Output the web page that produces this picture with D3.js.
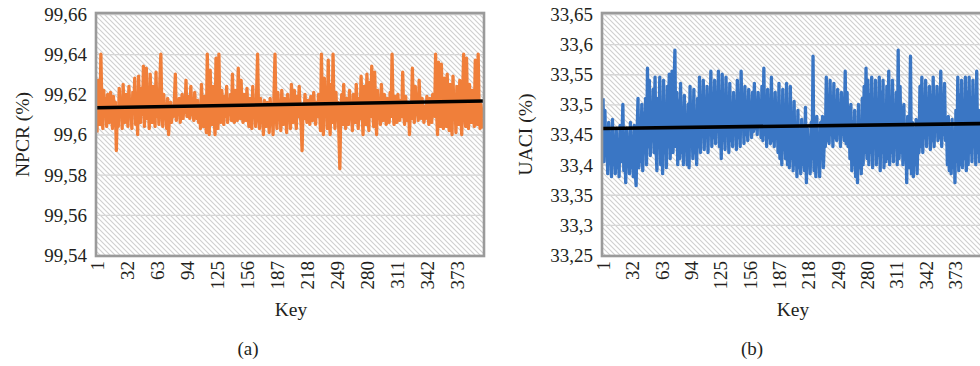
<!DOCTYPE html>
<html>
<head>
<meta charset="utf-8">
<script src="https://cdn.jsdelivr.net/npm/d3@7/dist/d3.min.js"></script>
<style>
  html, body { margin: 0; padding: 0; background: #ffffff; }
  svg { display: block; }
  text { font-family: "Liberation Serif", "DejaVu Serif", serif; fill: #231f20; }
</style>
</head>
<body>
<svg id="chart" width="980" height="366"></svg>
<script>
// Key positions shown on the category axis
const keyTicks = [1, 32, 63, 94, 125, 156, 187, 218, 249, 280, 311, 342, 373];

// NPCR (%) per key, keys 1..400
const npcrValues = [
  99.601, 99.627, 99.612, 99.605, 99.640, 99.615, 99.603, 99.622, 99.609, 99.618, 99.604, 99.620, 99.611, 99.606, 99.621, 99.613, 99.603, 99.619, 99.608, 99.616,
  99.592, 99.614, 99.604, 99.623, 99.609, 99.617, 99.603, 99.625, 99.611, 99.606, 99.620, 99.613, 99.604, 99.624, 99.610, 99.617, 99.603, 99.621, 99.612, 99.628,
  99.605, 99.618, 99.600, 99.629, 99.612, 99.606, 99.623, 99.610, 99.634, 99.604, 99.619, 99.633, 99.608, 99.615, 99.603, 99.630, 99.611, 99.606, 99.624, 99.614,
  99.604, 99.631, 99.609, 99.618, 99.605, 99.627, 99.640, 99.612, 99.604, 99.620, 99.609, 99.615, 99.603, 99.618, 99.600, 99.611, 99.616, 99.606, 99.614, 99.609,
  99.617, 99.630, 99.607, 99.615, 99.610, 99.618, 99.606, 99.613, 99.620, 99.608, 99.616, 99.611, 99.627, 99.609, 99.619, 99.612, 99.608, 99.624, 99.610, 99.615,
  99.607, 99.621, 99.612, 99.608, 99.617, 99.606, 99.613, 99.603, 99.625, 99.610, 99.604, 99.619, 99.612, 99.601, 99.640, 99.615, 99.600, 99.632, 99.611, 99.605,
  99.624, 99.609, 99.600, 99.638, 99.613, 99.603, 99.640, 99.610, 99.606, 99.622, 99.612, 99.605, 99.619, 99.609, 99.624, 99.606, 99.615, 99.611, 99.620, 99.607,
  99.630, 99.610, 99.606, 99.622, 99.612, 99.607, 99.633, 99.614, 99.608, 99.627, 99.610, 99.606, 99.620, 99.613, 99.607, 99.623, 99.610, 99.604, 99.618, 99.612,
  99.603, 99.624, 99.609, 99.615, 99.604, 99.621, 99.640, 99.611, 99.603, 99.618, 99.607, 99.614, 99.600, 99.617, 99.609, 99.604, 99.616, 99.611, 99.601, 99.618,
  99.608, 99.613, 99.600, 99.620, 99.640, 99.612, 99.603, 99.621, 99.609, 99.615, 99.602, 99.622, 99.610, 99.605, 99.618, 99.612, 99.601, 99.620, 99.609, 99.614,
  99.603, 99.625, 99.610, 99.606, 99.622, 99.612, 99.603, 99.619, 99.609, 99.624, 99.611, 99.605, 99.592, 99.614, 99.608, 99.620, 99.612, 99.606, 99.617, 99.610,
  99.605, 99.619, 99.612, 99.607, 99.621, 99.611, 99.605, 99.616, 99.609, 99.620, 99.613, 99.602, 99.640, 99.612, 99.600, 99.628, 99.609, 99.622, 99.603, 99.637,
  99.611, 99.600, 99.625, 99.606, 99.640, 99.612, 99.603, 99.621, 99.608, 99.616, 99.601, 99.583, 99.612, 99.620, 99.605, 99.625, 99.610, 99.603, 99.618, 99.612,
  99.605, 99.622, 99.609, 99.614, 99.602, 99.620, 99.611, 99.606, 99.625, 99.612, 99.603, 99.618, 99.608, 99.629, 99.611, 99.600, 99.624, 99.610, 99.605, 99.630,
  99.612, 99.602, 99.626, 99.609, 99.634, 99.611, 99.604, 99.631, 99.613, 99.600, 99.622, 99.609, 99.615, 99.605, 99.625, 99.612, 99.607, 99.620, 99.610, 99.605,
  99.618, 99.612, 99.606, 99.621, 99.609, 99.640, 99.613, 99.605, 99.619, 99.611, 99.606, 99.620, 99.612, 99.607, 99.617, 99.609, 99.631, 99.610, 99.605, 99.619,
  99.612, 99.607, 99.616, 99.600, 99.614, 99.608, 99.633, 99.612, 99.606, 99.624, 99.610, 99.615, 99.607, 99.627, 99.612, 99.608, 99.618, 99.610, 99.606, 99.614,
  99.608, 99.619, 99.611, 99.605, 99.618, 99.612, 99.606, 99.620, 99.614, 99.609, 99.640, 99.612, 99.600, 99.636, 99.614, 99.604, 99.635, 99.611, 99.603, 99.628,
  99.612, 99.604, 99.630, 99.610, 99.602, 99.625, 99.612, 99.600, 99.629, 99.609, 99.618, 99.601, 99.624, 99.611, 99.605, 99.627, 99.612, 99.600, 99.621, 99.640,
  99.612, 99.604, 99.638, 99.611, 99.603, 99.625, 99.614, 99.606, 99.622, 99.610, 99.604, 99.637, 99.612, 99.605, 99.640, 99.611, 99.603, 99.615, 99.608, 99.603
];

// UACI (%) per key, keys 1..400
const uaciValues = [
  33.510, 33.405, 33.490, 33.420, 33.455, 33.385, 33.470, 33.410, 33.445, 33.380, 33.475, 33.400, 33.440, 33.385, 33.460, 33.395, 33.430, 33.380, 33.465, 33.405,
  33.440, 33.500, 33.390, 33.450, 33.370, 33.460, 33.400, 33.435, 33.385, 33.470, 33.395, 33.445, 33.380, 33.465, 33.390, 33.365, 33.450, 33.510, 33.395, 33.470,
  33.405, 33.500, 33.390, 33.485, 33.420, 33.510, 33.400, 33.560, 33.430, 33.540, 33.415, 33.495, 33.440, 33.525, 33.420, 33.545, 33.430, 33.390, 33.510, 33.440,
  33.545, 33.400, 33.480, 33.385, 33.540, 33.420, 33.500, 33.395, 33.530, 33.430, 33.550, 33.410, 33.490, 33.555, 33.420, 33.515, 33.590, 33.430, 33.520, 33.400,
  33.505, 33.410, 33.535, 33.420, 33.490, 33.400, 33.515, 33.430, 33.470, 33.400, 33.500, 33.395, 33.530, 33.440, 33.480, 33.410, 33.525, 33.420, 33.470, 33.400,
  33.510, 33.430, 33.545, 33.420, 33.500, 33.450, 33.540, 33.425, 33.490, 33.460, 33.530, 33.420, 33.510, 33.450, 33.555, 33.430, 33.500, 33.445, 33.540, 33.435,
  33.505, 33.455, 33.555, 33.430, 33.520, 33.410, 33.550, 33.440, 33.495, 33.425, 33.545, 33.450, 33.505, 33.420, 33.535, 33.440, 33.490, 33.430, 33.520, 33.450,
  33.500, 33.425, 33.540, 33.445, 33.510, 33.430, 33.555, 33.460, 33.505, 33.435, 33.530, 33.450, 33.500, 33.440, 33.525, 33.460, 33.490, 33.445, 33.520, 33.455,
  33.535, 33.460, 33.495, 33.450, 33.520, 33.470, 33.500, 33.445, 33.530, 33.440, 33.560, 33.450, 33.500, 33.430, 33.525, 33.445, 33.490, 33.435, 33.545, 33.440,
  33.505, 33.430, 33.520, 33.445, 33.480, 33.420, 33.535, 33.410, 33.470, 33.400, 33.525, 33.425, 33.460, 33.410, 33.535, 33.400, 33.480, 33.395, 33.530, 33.410,
  33.470, 33.390, 33.505, 33.400, 33.455, 33.380, 33.490, 33.395, 33.440, 33.385, 33.475, 33.400, 33.450, 33.390, 33.495, 33.370, 33.460, 33.400, 33.440, 33.385,
  33.470, 33.410, 33.580, 33.390, 33.455, 33.380, 33.480, 33.400, 33.445, 33.380, 33.470, 33.410, 33.480, 33.395, 33.450, 33.430, 33.545, 33.440, 33.500, 33.435,
  33.540, 33.450, 33.495, 33.430, 33.535, 33.445, 33.505, 33.440, 33.525, 33.455, 33.480, 33.430, 33.520, 33.450, 33.490, 33.440, 33.555, 33.435, 33.520, 33.430,
  33.495, 33.410, 33.500, 33.390, 33.470, 33.400, 33.490, 33.380, 33.455, 33.370, 33.500, 33.395, 33.465, 33.385, 33.510, 33.400, 33.530, 33.420, 33.560, 33.410,
  33.540, 33.400, 33.515, 33.420, 33.545, 33.395, 33.500, 33.430, 33.540, 33.400, 33.490, 33.415, 33.545, 33.390, 33.520, 33.420, 33.540, 33.395, 33.480, 33.405,
  33.530, 33.410, 33.555, 33.400, 33.500, 33.420, 33.540, 33.405, 33.490, 33.430, 33.520, 33.400, 33.590, 33.410, 33.530, 33.420, 33.495, 33.400, 33.500, 33.410,
  33.460, 33.370, 33.480, 33.395, 33.450, 33.580, 33.385, 33.470, 33.380, 33.460, 33.400, 33.475, 33.385, 33.455, 33.420, 33.530, 33.430, 33.545, 33.420, 33.510,
  33.445, 33.540, 33.430, 33.500, 33.450, 33.530, 33.425, 33.515, 33.440, 33.545, 33.430, 33.500, 33.455, 33.530, 33.440, 33.490, 33.445, 33.555, 33.430, 33.505,
  33.450, 33.535, 33.440, 33.470, 33.400, 33.480, 33.390, 33.460, 33.385, 33.475, 33.395, 33.450, 33.370, 33.490, 33.405, 33.545, 33.390, 33.515, 33.400, 33.540,
  33.395, 33.500, 33.410, 33.545, 33.390, 33.520, 33.400, 33.545, 33.420, 33.510, 33.405, 33.540, 33.430, 33.505, 33.400, 33.555, 33.420, 33.490, 33.405, 33.430
];

// Linear trend lines: [value at first key, value at last key]
const npcrTrend = [99.6133, 99.6167];
const uaciTrend = [33.4600, 33.4680];

// Value axis ticks
const npcrTicks = [99.54, 99.56, 99.58, 99.60, 99.62, 99.64, 99.66];
const uaciTicks = [33.25, 33.30, 33.35, 33.40, 33.45, 33.50, 33.55, 33.60, 33.65];

const svg = d3.select("#chart");
const fmt = v => String(+v.toFixed(2)).replace(".", ",");
const serif = "'Liberation Serif', 'DejaVu Serif', serif";

// diagonal hatch used as plot-area fill
const defs = svg.append("defs");
const pat = defs.append("pattern")
  .attr("id", "hatch")
  .attr("patternUnits", "userSpaceOnUse")
  .attr("width", 5).attr("height", 5);
pat.append("rect").attr("width", 5).attr("height", 5).attr("fill", "#ffffff");
pat.append("path")
  .attr("d", "M-1,-1 L6,6 M-1,4 L1,6 M4,-1 L6,1")
  .attr("stroke", "#cfcfcf").attr("stroke-width", 1.1);

function panel(cfg) {
  const keys = d3.range(1, cfg.values.length + 1);
  const x = d3.scaleLinear().domain([1, keys.length]).range([cfg.x0, cfg.x1]);
  const y = d3.scaleLinear().domain([cfg.ticks[0], cfg.ticks[cfg.ticks.length - 1]]).range([cfg.y1, cfg.y0]);
  const g = svg.append("g");

  // plot area
  g.append("rect")
    .attr("x", cfg.x0 - 1).attr("y", cfg.y0 - 1)
    .attr("width", cfg.x1 - cfg.x0 + 2).attr("height", cfg.y1 - cfg.y0 + 2)
    .attr("fill", "url(#hatch)");

  // horizontal gridlines
  g.append("g").call(
    d3.axisLeft(y).tickValues(cfg.ticks).tickSize(-(cfg.x1 - cfg.x0)).tickFormat("")
  ).call(s => {
    s.select(".domain").remove();
    s.selectAll(".tick line").attr("stroke", "#d6d6d6").attr("stroke-width", 1.4);
  }).attr("transform", `translate(${cfg.x0},0)`);

  // series
  const line = d3.line().x((d, i) => x(i + 1)).y(d => y(d));
  g.append("path")
    .datum(cfg.values)
    .attr("d", line)
    .attr("fill", "none")
    .attr("stroke", cfg.color)
    .attr("stroke-width", 3.3)
    .attr("stroke-linejoin", "round");

  // trend line
  g.append("path")
    .datum([[1, cfg.trend[0]], [keys.length, cfg.trend[1]]])
    .attr("d", d3.line().x(d => x(d[0])).y(d => y(d[1])))
    .attr("stroke", "#000000")
    .attr("stroke-width", 3.6)
    .attr("fill", "none");

  // frame
  g.append("rect")
    .attr("x", cfg.x0 - 1).attr("y", cfg.y0 - 1)
    .attr("width", cfg.x1 - cfg.x0 + 2).attr("height", cfg.y1 - cfg.y0 + 2)
    .attr("fill", "none")
    .attr("stroke", "#9a9a9a")
    .attr("stroke-width", 2.6);

  // value axis labels
  const ya = g.append("g")
    .attr("transform", `translate(${cfg.x0 - 10},0)`)
    .call(d3.axisLeft(y).tickValues(cfg.ticks).tickSize(0).tickPadding(0).tickFormat(fmt));
  ya.attr("font-family", null).attr("font-size", null);
  ya.select(".domain").remove();
  ya.selectAll("text")
    .style("font-family", serif)
    .style("font-size", "19px")
    .attr("fill", "#231f20")
    .attr("dy", "0.34em");

  // key axis labels (rotated)
  const xa = g.append("g")
    .attr("transform", `translate(0,${cfg.y1 + 6})`)
    .call(d3.axisBottom(x).tickValues(keyTicks).tickSize(0).tickPadding(0).tickFormat(d3.format("d")));
  xa.attr("font-family", null).attr("font-size", null);
  xa.select(".domain").remove();
  xa.selectAll("text")
    .style("font-family", serif)
    .style("font-size", "19px")
    .attr("fill", "#231f20")
    .attr("text-anchor", "end")
    .attr("transform", "rotate(-90)")
    .attr("x", 0).attr("y", 0)
    .attr("dy", "0.34em");

  // axis titles
  g.append("text")
    .attr("x", cfg.keyX).attr("y", 316)
    .attr("text-anchor", "middle")
    .style("font-family", serif).style("font-size", "19.5px")
    .text("Key");
  g.append("text")
    .attr("transform", `translate(${cfg.titleX},${(cfg.y0 + cfg.y1) / 2}) rotate(-90)`)
    .attr("text-anchor", "middle")
    .style("font-family", serif).style("font-size", "19.5px")
    .text(cfg.title);
  g.append("text")
    .attr("x", cfg.capX).attr("y", 355)
    .attr("text-anchor", "middle")
    .style("font-family", serif).style("font-size", "19px")
    .text(cfg.caption);
}

panel({
  values: npcrValues, trend: npcrTrend, ticks: npcrTicks, color: "#f07f3a",
  x0: 97, x1: 483, y0: 14, y1: 255,
  title: "NPCR (%)", titleX: 29, keyX: 291, caption: "(a)", capX: 248
});

panel({
  values: uaciValues, trend: uaciTrend, ticks: uaciTicks, color: "#3a76c4",
  x0: 603, x1: 980.5, y0: 14, y1: 255,
  title: "UACI (%)", titleX: 532, keyX: 793, caption: "(b)", capX: 752
});
</script>
</body>
</html>
